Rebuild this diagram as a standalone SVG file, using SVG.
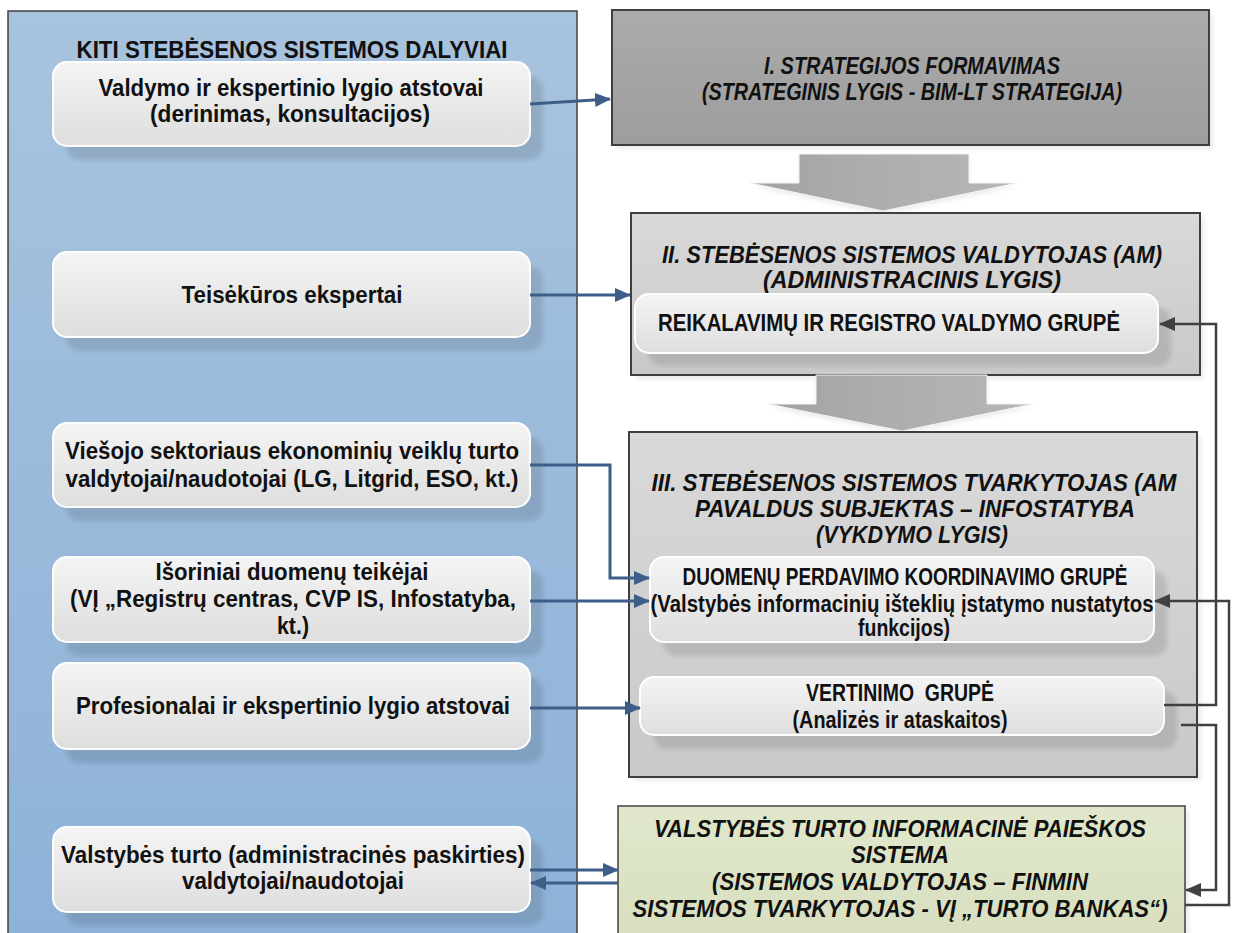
<svg xmlns="http://www.w3.org/2000/svg" width="1234" height="933" viewBox="0 0 1234 933">
  <style>
    .t{font-family:"Liberation Sans Narrow","Liberation Sans",Arial,sans-serif;font-weight:bold;font-size:23px;fill:#111;text-anchor:middle}
    .i{font-style:italic}
    .card{fill:url(#gCard);stroke:#ffffff;stroke-width:2}
    .sh{fill:#000;opacity:.11;filter:url(#soft)}
    .osh{fill:#000;opacity:.08;filter:url(#soft)}
    .frame{stroke:#3f3f3f;stroke-width:2}
    .blue{fill:none;stroke:#3d5e88;stroke-width:3;marker-end:url(#aBlue)}
    .dark{fill:none;stroke:#404040;stroke-width:2.5;marker-end:url(#aDark)}
    .big{fill:url(#gArrow);stroke:#f4f4f4;stroke-width:1}
  </style>
  <defs>
    <linearGradient id="gPanel" x1="0" y1="0" x2="0" y2="1">
      <stop offset="0" stop-color="#a8c3de"/>
      <stop offset="1" stop-color="#8db2d8"/>
    </linearGradient>
    <linearGradient id="gCard" x1="0" y1="0" x2="0" y2="1">
      <stop offset="0" stop-color="#f4f4f4"/>
      <stop offset="1" stop-color="#dedede"/>
    </linearGradient>
    <linearGradient id="gDark" x1="0" y1="0" x2="0" y2="1">
      <stop offset="0" stop-color="#ababab"/>
      <stop offset="1" stop-color="#9d9d9d"/>
    </linearGradient>
    <linearGradient id="gLight" x1="0" y1="0" x2="0" y2="1">
      <stop offset="0" stop-color="#d9d9d9"/>
      <stop offset="1" stop-color="#c9c9c9"/>
    </linearGradient>
    <linearGradient id="gGreen" x1="0" y1="0" x2="0" y2="1">
      <stop offset="0" stop-color="#e0e7cb"/>
      <stop offset="1" stop-color="#d7dfbf"/>
    </linearGradient>
    <linearGradient id="gArrow" x1="0" y1="0" x2="1" y2="0">
      <stop offset="0" stop-color="#a2a2a2"/>
      <stop offset="0.5" stop-color="#aeaeae"/>
      <stop offset="1" stop-color="#b6b6b6"/>
    </linearGradient>
    <filter id="soft" x="-10%" y="-20%" width="120%" height="140%">
      <feGaussianBlur stdDeviation="2.5"/>
    </filter>
    <marker id="aBlue" viewBox="0 0 16 14" refX="15" refY="7" markerWidth="16" markerHeight="14" markerUnits="userSpaceOnUse" orient="auto">
      <path d="M0,0L16,7L0,14z" fill="#3d5e88"/>
    </marker>
    <marker id="aDark" viewBox="0 0 16 14" refX="15" refY="7" markerWidth="16" markerHeight="14" markerUnits="userSpaceOnUse" orient="auto">
      <path d="M0,0L16,7L0,14z" fill="#404040"/>
    </marker>
  </defs>

  <rect width="1234" height="933" fill="#ffffff"/>

  <!-- participants column -->
  <g id="participants">
    <rect x="8" y="11" width="569" height="940" fill="url(#gPanel)" stroke="#404040" stroke-width="1.5"/>
    <text class="t" x="292" y="58" textLength="431" lengthAdjust="spacingAndGlyphs">KITI STEBĖSENOS SISTEMOS DALYVIAI</text>
  </g>

  <g id="p-valdymo">
    <rect class="sh" x="66" y="76" width="477" height="84" rx="14"/>
    <rect class="card" x="53" y="62" width="477" height="84" rx="14"/>
    <text class="t" x="291" y="96" textLength="385" lengthAdjust="spacingAndGlyphs">Valdymo ir ekspertinio lygio atstovai</text>
    <text class="t" x="290" y="122" textLength="280" lengthAdjust="spacingAndGlyphs">(derinimas, konsultacijos)</text>
  </g>

  <g id="p-teisekuros">
    <rect class="sh" x="66" y="266" width="477" height="85" rx="14"/>
    <rect class="card" x="53" y="252" width="477" height="85" rx="14"/>
    <text class="t" x="292" y="303" textLength="221" lengthAdjust="spacingAndGlyphs">Teisėkūros ekspertai</text>
  </g>

  <g id="p-viesojo">
    <rect class="sh" x="66" y="437" width="477" height="84" rx="14"/>
    <rect class="card" x="53" y="423" width="477" height="84" rx="14"/>
    <text class="t" x="292" y="459" textLength="454" lengthAdjust="spacingAndGlyphs">Viešojo sektoriaus ekonominių veiklų turto</text>
    <text class="t" x="292" y="487" textLength="453" lengthAdjust="spacingAndGlyphs">valdytojai/naudotojai (LG, Litgrid, ESO, kt.)</text>
  </g>

  <g id="p-isoriniai">
    <rect class="sh" x="66" y="571" width="477" height="85" rx="14"/>
    <rect class="card" x="53" y="557" width="477" height="85" rx="14"/>
    <text class="t" x="292" y="580" textLength="273" lengthAdjust="spacingAndGlyphs">Išoriniai duomenų teikėjai</text>
    <text class="t" x="293" y="607" textLength="446" lengthAdjust="spacingAndGlyphs">(VĮ „Registrų centras, CVP IS, Infostatyba,</text>
    <text class="t" x="293" y="634" textLength="32" lengthAdjust="spacingAndGlyphs">kt.)</text>
  </g>

  <g id="p-profesionalai">
    <rect class="sh" x="66" y="677" width="477" height="86" rx="14"/>
    <rect class="card" x="53" y="663" width="477" height="86" rx="14"/>
    <text class="t" x="293" y="714" textLength="434" lengthAdjust="spacingAndGlyphs">Profesionalai ir ekspertinio lygio atstovai</text>
  </g>

  <g id="p-valstybes">
    <rect class="sh" x="66" y="841" width="477" height="85" rx="14"/>
    <rect class="card" x="53" y="827" width="477" height="85" rx="14"/>
    <text class="t" x="293" y="863" textLength="464" lengthAdjust="spacingAndGlyphs">Valstybės turto (administracinės paskirties)</text>
    <text class="t" x="293" y="889" textLength="222" lengthAdjust="spacingAndGlyphs">valdytojai/naudotojai</text>
  </g>

  <!-- level I -->
  <g id="level-1">
    <rect class="osh" x="616" y="14" width="597" height="135"/>
    <rect class="frame" x="612" y="10" width="597" height="135" fill="url(#gDark)"/>
    <text class="t i" x="912" y="74" textLength="296" lengthAdjust="spacingAndGlyphs">I. STRATEGIJOS FORMAVIMAS</text>
    <text class="t i" x="912" y="100" textLength="420" lengthAdjust="spacingAndGlyphs">(STRATEGINIS LYGIS - BIM-LT STRATEGIJA)</text>
  </g>

  <g id="flow-1">
    <polygon class="osh" points="799,157 969,157 969,186 1017,186 883,214 750,186 799,186"/>
    <polygon class="big" points="799,154 969,154 969,183 1017,183 883,211 750,183 799,183"/>
  </g>

  <!-- level II -->
  <g id="level-2">
    <rect class="osh" x="635" y="217" width="569" height="162"/>
    <rect class="frame" x="631" y="213" width="569" height="162" fill="url(#gLight)"/>
    <text class="t i" x="912" y="263" textLength="500" lengthAdjust="spacingAndGlyphs">II. STEBĖSENOS SISTEMOS VALDYTOJAS (AM)</text>
    <text class="t i" x="912" y="288" textLength="298" lengthAdjust="spacingAndGlyphs">(ADMINISTRACINIS LYGIS)</text>
  </g>

  <g id="g-reikalavimu">
    <rect class="sh" x="648" y="307" width="523" height="59" rx="14"/>
    <rect class="card" x="635" y="294" width="523" height="59" rx="14"/>
    <text class="t" x="889" y="331" textLength="462" lengthAdjust="spacingAndGlyphs">REIKALAVIMŲ IR REGISTRO VALDYMO GRUPĖ</text>
  </g>

  <g id="flow-2">
    <polygon class="osh" points="816,378 987,378 987,407 1033,407 902,434 768,407 816,407"/>
    <polygon class="big" points="816,375 987,375 987,404 1033,404 902,431 768,404 816,404"/>
  </g>

  <!-- level III -->
  <g id="level-3">
    <rect class="osh" x="633" y="436" width="568" height="345"/>
    <rect class="frame" x="629" y="432" width="568" height="345" fill="url(#gLight)"/>
    <text class="t i" x="914" y="491" textLength="525" lengthAdjust="spacingAndGlyphs">III. STEBĖSENOS SISTEMOS TVARKYTOJAS (AM</text>
    <text class="t i" x="915" y="517" textLength="440" lengthAdjust="spacingAndGlyphs">PAVALDUS SUBJEKTAS – INFOSTATYBA</text>
    <text class="t i" x="912" y="543" textLength="192" lengthAdjust="spacingAndGlyphs">(VYKDYMO LYGIS)</text>
  </g>

  <g id="g-duomenu">
    <rect class="sh" x="663" y="571" width="504" height="85" rx="14"/>
    <rect class="card" x="650" y="557" width="504" height="85" rx="14"/>
    <text class="t" x="905" y="585" textLength="445" lengthAdjust="spacingAndGlyphs">DUOMENŲ PERDAVIMO KOORDINAVIMO GRUPĖ</text>
    <text class="t" x="902" y="612" textLength="503" lengthAdjust="spacingAndGlyphs">(Valstybės informacinių išteklių įstatymo nustatytos</text>
    <text class="t" x="904" y="636" textLength="92" lengthAdjust="spacingAndGlyphs">funkcijos)</text>
  </g>

  <g id="g-vertinimo">
    <rect class="sh" x="653" y="691" width="524" height="58" rx="14"/>
    <rect class="card" x="640" y="677" width="524" height="58" rx="14"/>
    <text class="t" x="900" y="701" textLength="188" lengthAdjust="spacingAndGlyphs" xml:space="preserve">VERTINIMO  GRUPĖ</text>
    <text class="t" x="900" y="728" textLength="215" lengthAdjust="spacingAndGlyphs">(Analizės ir ataskaitos)</text>
  </g>

  <!-- state property information system -->
  <g id="turto-sistema">
    <rect class="osh" x="622" y="810" width="567" height="140"/>
    <rect x="618" y="806" width="567" height="140" fill="url(#gGreen)" stroke="#404040" stroke-width="1.5"/>
    <text class="t i" x="900" y="837" textLength="492" lengthAdjust="spacingAndGlyphs">VALSTYBĖS TURTO INFORMACINĖ PAIEŠKOS</text>
    <text class="t i" x="900" y="863" textLength="98" lengthAdjust="spacingAndGlyphs">SISTEMA</text>
    <text class="t i" x="900" y="890" textLength="376" lengthAdjust="spacingAndGlyphs">(SISTEMOS VALDYTOJAS – FINMIN</text>
    <text class="t i" x="900" y="917" textLength="535" lengthAdjust="spacingAndGlyphs">SISTEMOS TVARKYTOJAS - VĮ „TURTO BANKAS“)</text>
  </g>

  <!-- connectors -->
  <g id="connectors">
    <path class="blue" d="M530,104 L610,99"/>
    <path class="blue" d="M530,295 H630"/>
    <path class="blue" d="M530,465 H610 V578 H649"/>
    <path class="blue" d="M530,601 H649"/>
    <path class="blue" d="M530,708 H640"/>
    <path class="blue" d="M530,870 H618"/>
    <path class="blue" d="M618,883 H531"/>
    <path class="dark" d="M1164,705 H1216 V324 H1160"/>
    <path class="dark" d="M1181,725 H1216 V890 H1186"/>
    <path class="dark" d="M1185,905 H1229 V601 H1155"/>
  </g>
</svg>
